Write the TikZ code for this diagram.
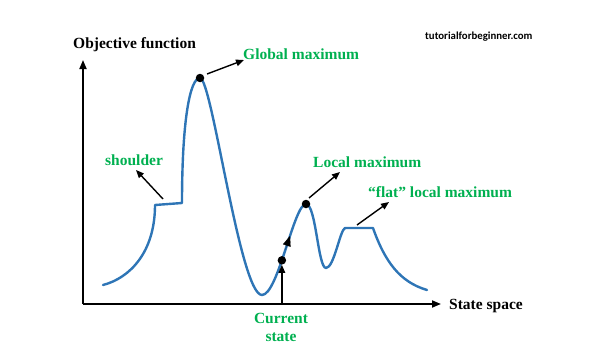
\documentclass[tikz,border=0pt]{standalone}
\usepackage{fontspec}
\setmainfont{Liberation Serif}
\newfontfamily\wmfont{Carlito}
\usetikzlibrary{arrows.meta}
\definecolor{curveblue}{HTML}{2E75B6}
\definecolor{labgreen}{HTML}{00B050}
\begin{document}
\begin{tikzpicture}[x=1pt,y=-1pt,
  axis/.style={line width=1.8pt,-{Triangle[length=9pt,width=7pt]}},
  pointer/.style={line width=1.4pt,-{Triangle[length=8pt,width=6.5pt]}},
  curve/.style={curveblue,line width=2.4pt,line join=round,line cap=round},
  dot/.style={circle,fill=black,inner sep=0pt,minimum size=8.5pt},
  blacklab/.style={font=\fontsize{15.5}{18}\selectfont\bfseries,text=black,inner sep=0pt},
  greenlab/.style={font=\fontsize{15.5}{18}\selectfont\bfseries,text=labgreen,inner sep=0pt}]
\useasboundingbox (0,0) rectangle (600,364);
% axes
\coordinate (O) at (83,304);
\coordinate (ytip) at (83,60);
\coordinate (xtip) at (441,304);
\draw[axis] (O) -- (ytip);
\draw[axis] (O) -- (xtip);
% curve
\draw[curve] (103,285) .. controls (130,278) and (155,252) .. (155,205)
  -- (182,203)
  .. controls (182,120) and (190,78) .. (200,78) coordinate (gm)
  .. controls (212,78) and (240,295) .. (262,295)
  .. controls (278,295) and (294,204) .. coordinate[pos=0.42] (cs) coordinate[pos=0.50] (ar1) coordinate[pos=0.60] (ar2) (306,204) coordinate (lm)
  .. controls (316,204) and (318,268) .. (326,268)
  .. controls (334,268) and (340,230) .. (345,228)
  -- (373,228)
  .. controls (385,262) and (400,282) .. (427,290);
% curve direction arrow
\draw[black,line width=0.1pt,-{Triangle[length=10pt,width=8pt]}] (ar1) -- (ar2);
% dots
\node[dot] (gmd) at (gm) {};
\node[dot] (lmd) at (lm) {};
\node[dot] (csd) at (cs) {};
% current state pointer
\coordinate (csbase) at (cs |- O);
\draw[pointer] (csbase) -- (csd.south);
% annotation pointers
\coordinate (g1) at (207,74);
\coordinate (g2) at (244,60);
\draw[pointer] (g1) -- (g2);
\coordinate (s1) at (163,199);
\coordinate (s2) at (136,170);
\draw[pointer] (s1) -- (s2);
\coordinate (l1) at (309,198);
\coordinate (l2) at (340,172);
\draw[pointer] (l1) -- (l2);
\coordinate (f1) at (357,225);
\coordinate (f2) at (389,202);
\draw[pointer] (f1) -- (f2);
% labels
\node[blacklab,anchor=base west] (ylab) at (73,48) {Objective function};
\node[blacklab,anchor=base west] (xlab) at (449,309) {State space};
\node[greenlab,anchor=base west] (glab) at (243,59) {Global maximum};
\node[greenlab,anchor=base west] (slab) at (105,165) {shoulder};
\node[greenlab,anchor=base west] (llab) at (313,167) {Local maximum};
\node[greenlab,anchor=base west] (flab) at (368,197) {“flat” local maximum};
\node[greenlab,anchor=base] (clab1) at (281,323) {Current};
\node[greenlab,anchor=base] (clab2) at (281,341) {state};
\node[font=\wmfont\fontsize{10.8}{12}\selectfont\bfseries,anchor=base west,inner sep=0pt] (wm) at (425,39) {tutorialforbeginner.com};
\end{tikzpicture}
\end{document}
